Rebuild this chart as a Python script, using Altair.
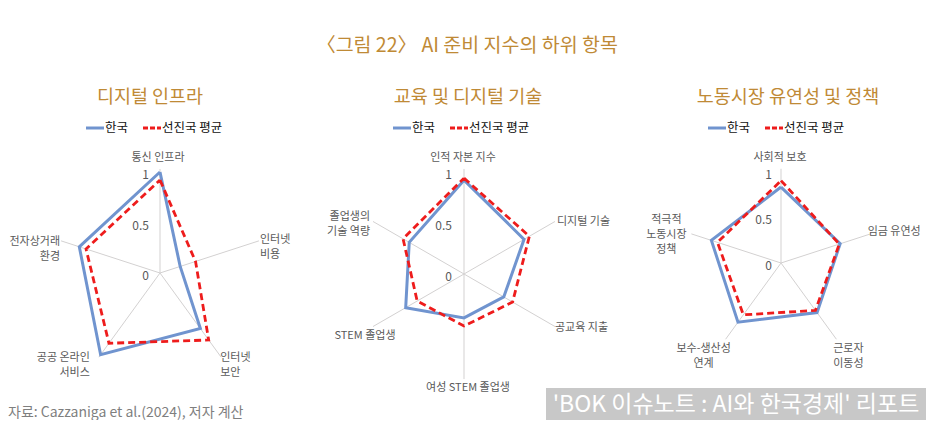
import math
import altair as alt
import pandas as pd

# ---------------- data ----------------
PANEL_TITLES = ["디지털 인프라", "교육 및 디지털 기술", "노동시장 유연성 및 정책"]
SERIES = ["한국", "선진국 평균"]

AXES_1 = ["통신 인프라", "인터넷\n비용", "인터넷\n보안", "공공 온라인\n서비스", "전자상거래\n환경"]
KOREA_1 = [1.00, 0.21, 0.68, 1.00, 0.84]
ADV_1 = [0.92, 0.37, 0.82, 0.86, 0.77]

AXES_2 = ["인적 자본 지수", "디지털 기술", "공교육 지출", "여성 STEM 졸업생", "STEM 졸업생", "졸업생의\n기술 역량"]
KOREA_2 = [0.92, 0.68, 0.45, 0.43, 0.66, 0.62]
ADV_2 = [0.94, 0.74, 0.55, 0.51, 0.53, 0.69]

AXES_3 = ["사회적 보호", "임금 유연성", "근로자\n이동성", "보수-생산성\n연계", "적극적\n노동시장\n정책"]
KOREA_3 = [0.83, 0.68, 0.67, 0.80, 0.80]
ADV_3 = [0.90, 0.67, 0.64, 0.70, 0.73]

TICKS = [0, 0.5, 1]
TICK_LABELS = ["0", "0.5", "1"]

TITLE = "〈그림 22〉 AI 준비 지수의 하위 항목"
SOURCE = "자료: Cazzaniga et al.(2024), 저자 계산"
WATERMARK = "'BOK 이슈노트 : AI와 한국경제' 리포트"

# ---------------- layout / style ----------------
W, H = 918, 412
FONT = "Noto Sans CJK KR"
GOLD = "#BF8A36"
BLUE = "#7094CF"
RED = "#EE1C1C"
TXT = "#595959"
SPOKE_LEN = 1.03

PANELS = [
    dict(cx=152, cy=265, R=101, tdx=-11, legx=0, titlex=142),
    dict(cx=456, cy=266, R=102, tdx=-12, legx=307, titlex=460),
    dict(cx=773, cy=255, R=91.5, tdx=-9, legx=622, titlex=780),
]
# (align, dx, dy of first line centre) relative to spoke end
LABEL_LAYOUT = [
    [("center", -2, -11), ("left", 1, -1), ("left", -1, 1), ("right", -9, 1), ("right", -1, 1)],
    [("center", -1, -11), ("left", 2, 1), ("left", 0, 1), ("center", 4, 9), ("center", -8, 9), ("right", -3, -4)],
    [("center", -1, -11), ("left", -3, -2), ("center", 12, 10), ("center", -22, 10), ("center", -25, -14)],
]

DATA = [(AXES_1, KOREA_1, ADV_1), (AXES_2, KOREA_2, ADV_2), (AXES_3, KOREA_3, ADV_3)]

poly, spokes, labels, ticks = [], [], [], []
for p, (axes, kor, adv) in enumerate(DATA):
    L = PANELS[p]
    n = len(axes)
    for k in range(n):
        th = 2 * math.pi * k / n
        s, c = math.sin(th), math.cos(th)
        ex, ey = L["cx"] + SPOKE_LEN * L["R"] * s, L["cy"] - SPOKE_LEN * L["R"] * c
        spokes.append(dict(panel=p, x=L["cx"], y=L["cy"], x2=ex, y2=ey))
        al, dx, dy = LABEL_LAYOUT[p][k]
        labels.append(dict(panel=p, label=axes[k], al=al, x=ex + dx, y=ey + dy - 6))
    for sname, vals in ((SERIES[0], kor), (SERIES[1], adv)):
        for k in range(n + 1):
            kk = k % n
            th = 2 * math.pi * kk / n
            r = vals[kk]
            poly.append(dict(panel=p, series=sname, k=k,
                             x=L["cx"] + r * L["R"] * math.sin(th),
                             y=L["cy"] - r * L["R"] * math.cos(th)))
    for t, tl in zip(TICKS, TICK_LABELS):
        ticks.append(dict(panel=p, label=tl, x=L["cx"] + L["tdx"], y=L["cy"] - t * L["R"] + 3))

poly_df = pd.DataFrame(poly)
spoke_df = pd.DataFrame(spokes)
label_df = pd.DataFrame(labels)
tick_df = pd.DataFrame(ticks)

leg_lines, leg_text = [], []
for p, L in enumerate(PANELS):
    o = L["legx"]
    leg_lines.append(dict(series=SERIES[0], x=78 + o, x2=96 + o, y=120))
    leg_lines.append(dict(series=SERIES[1], x=135 + o, x2=153 + o, y=120))
    leg_text.append(dict(label=SERIES[0], x=97 + o, y=120))
    leg_text.append(dict(label=SERIES[1], x=154 + o, y=120))
leg_lines_df = pd.DataFrame(leg_lines)
leg_text_df = pd.DataFrame(leg_text)

sub_df = pd.DataFrame(dict(label=PANEL_TITLES, x=[L["titlex"] for L in PANELS], y=[89] * 3))

XS = alt.Scale(domain=[0, W], nice=False, zero=False)
YS = alt.Scale(domain=[0, H], nice=False, zero=False, reverse=True)


def X(f="x"):
    return alt.X(f"{f}:Q", scale=XS, axis=None)


def Y(f="y"):
    return alt.Y(f"{f}:Q", scale=YS, axis=None)


spoke_layer = alt.Chart(spoke_df).mark_rule(color="#D3D1D1", strokeWidth=1).encode(
    x=X(), y=Y(), x2="x2:Q", y2="y2:Q")

kor_layer = alt.Chart(poly_df[poly_df["series"] == SERIES[0]]).mark_line(
    color=BLUE, strokeWidth=3, strokeJoin="miter").encode(
    x=X(), y=Y(), detail="panel:N", order="k:Q")
adv_layer = alt.Chart(poly_df[poly_df["series"] == SERIES[1]]).mark_line(
    color=RED, strokeWidth=2.8, strokeDash=[7, 4], strokeJoin="miter").encode(
    x=X(), y=Y(), detail="panel:N", order="k:Q")

label_layers = []
for a in ["left", "center", "right"]:
    d = label_df[label_df["al"] == a]
    label_layers.append(alt.Chart(d).mark_text(
        align=a, baseline="top", lineBreak="\n", lineHeight=15, font=FONT,
        fontSize=11, color=TXT).encode(x=X(), y=Y(), text="label:N"))

tick_layer = alt.Chart(tick_df).mark_text(
    align="right", baseline="middle", font=FONT, fontSize=12, color=TXT).encode(
    x=X(), y=Y(), text="label:N")

sub_layer = alt.Chart(sub_df).mark_text(
    align="center", baseline="middle", font=FONT, fontSize=18.5, color=GOLD).encode(
    x=X(), y=Y(), text="label:N")

title_layer = alt.Chart(pd.DataFrame(dict(label=[TITLE], x=[459], y=[38]))).mark_text(
    align="center", baseline="middle", font=FONT, fontSize=19.5, color=GOLD).encode(
    x=X(), y=Y(), text="label:N")

leg_blue = alt.Chart(leg_lines_df[leg_lines_df["series"] == SERIES[0]]).mark_rule(
    color=BLUE, strokeWidth=3).encode(x=X(), x2="x2:Q", y=Y())
leg_red = alt.Chart(leg_lines_df[leg_lines_df["series"] == SERIES[1]]).mark_rule(
    color=RED, strokeWidth=3, strokeDash=[5, 2]).encode(x=X(), x2="x2:Q", y=Y())
leg_txt = alt.Chart(leg_text_df).mark_text(
    align="left", baseline="middle", font=FONT, fontSize=12.5, color="#111111").encode(
    x=X(), y=Y(), text="label:N")

source_layer = alt.Chart(pd.DataFrame(dict(label=[SOURCE], x=[0], y=[405]))).mark_text(
    align="left", baseline="middle", font=FONT, fontSize=14, color="#7F7F7F").encode(
    x=X(), y=Y(), text="label:N")

wm_rect = alt.Chart(pd.DataFrame(dict(x=[538], x2=[919], y=[380], y2=[413]))).mark_rect(
    color="#C8C8C8").encode(x=X(), x2="x2:Q", y=Y(), y2="y2:Q")
wm_text = alt.Chart(pd.DataFrame(dict(label=[WATERMARK], x=[728], y=[397]))).mark_text(
    align="center", baseline="middle", font=FONT, fontSize=23, color="#FFFFFF").encode(
    x=X(), y=Y(), text="label:N")

chart = alt.layer(
    spoke_layer, kor_layer, adv_layer, *label_layers, tick_layer,
    sub_layer, title_layer, leg_blue, leg_red, leg_txt,
    source_layer, wm_rect, wm_text,
).properties(
    width=W, height=H, padding=0, autosize="none", background="#FFFFFF"
).configure_view(stroke=None)

chart.save("out.html", embed_options={"renderer": "svg", "actions": False})
